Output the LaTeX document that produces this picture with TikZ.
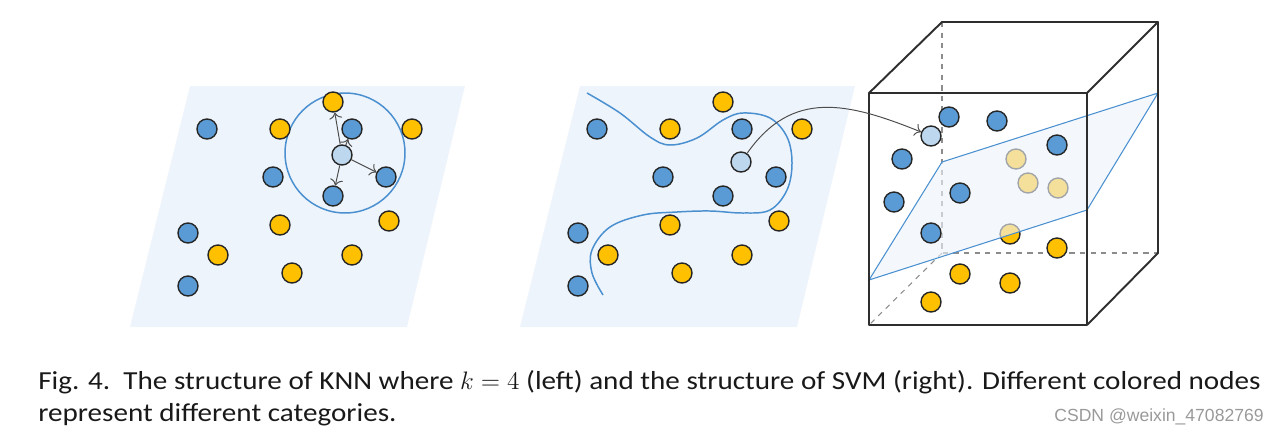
\documentclass[tikz,border=0pt]{standalone}
\usepackage{fontspec}
\usepackage{tikz}
\usetikzlibrary{arrows.meta}
\newfontfamily\capfont[FakeStretch=1.12]{Carlito}
\newfontfamily\markfont{Liberation Sans}
\definecolor{ptblue}{HTML}{5B9BD5}
\definecolor{ptyellow}{HTML}{FFC000}
\definecolor{ptquery}{HTML}{BDD7EE}
\definecolor{planefill}{HTML}{EEF4FB}
\definecolor{curveblue}{HTML}{4A90D0}

\begin{document}
\begin{tikzpicture}[
  x=0.02cm, y=-0.02cm,
  pt/.style={circle, draw=black!85, line width=0.8pt, minimum size=0.4cm, inner sep=0pt},
  bluept/.style={pt, fill=ptblue},
  yellowpt/.style={pt, fill=ptyellow},
  querypt/.style={pt, fill=ptquery},
  boundary/.style={draw=curveblue, line width=0.85pt},
  link/.style={-{To[length=3.5pt]}, draw=black!70, line width=0.55pt},
  cubeedge/.style={draw=black!82, line width=1.1pt, line join=round},
  hidden/.style={draw=black!45, dashed, line width=0.6pt},
  caption/.style={anchor=base west, inner sep=0pt, text=black!90, font=\capfont\fontsize{14.8}{17}\selectfont},
]
  \useasboundingbox (0,0) rectangle (1280,440);

  % KNN panel
  \fill[planefill] (190,86) -- (465,86) -- (407,327) -- (130,327) -- cycle;
  \node[circle, boundary, minimum size=2.4cm] (ring) at (345,153) {};
  \foreach \n/\x/\y in {1/207/129, 2/352/129, 3/273/177, 4/386/177, 5/333/196, 6/188/233, 7/188/286}
    \node[bluept] (kb\n) at (\x,\y) {};
  \foreach \n/\x/\y in {1/280/129, 2/333/102, 3/412/129, 4/280/225, 5/389/221, 6/218/255, 7/352/255, 8/292/273}
    \node[yellowpt] (ky\n) at (\x,\y) {};
  \node[querypt] (kq) at (342,155) {};
  \draw[link] (kq) -- (ky2);
  \draw[link] (kq) -- (kb2);
  \draw[link] (kq) -- (kb4);
  \draw[link] (kq) -- (kb5);

  % SVM panel, flat view
  \fill[planefill] (580,86) -- (855,86) -- (797,327) -- (520,327) -- cycle;
  \draw[boundary] plot[smooth, tension=0.6] coordinates {(587,93) (620,113) (650,137) (670,145) (697,138)
    (723,120) (743,113) (770,118) (787,137) (792,163) (787,190) (770,210) (743,213) (710,211)
    (677,212) (643,215) (610,227) (592,250) (592,273) (603,295)};
  \foreach \n/\x/\y in {1/207/129, 2/352/129, 3/273/177, 4/386/177, 5/333/196, 6/188/233, 7/188/286}
    \node[bluept] (sb\n) at ({\x+390},\y) {};
  \foreach \n/\x/\y in {1/280/129, 2/333/102, 3/412/129, 4/280/225, 5/389/221, 6/218/255, 7/352/255, 8/292/273}
    \node[yellowpt] (sy\n) at ({\x+390},\y) {};
  \node[querypt] (sq) at (741,162) {};

  % SVM panel, lifted into the cube
  \coordinate (f1) at (869,93);  \coordinate (f2) at (1087,93);
  \coordinate (f3) at (1087,325); \coordinate (f4) at (869,325);
  \coordinate (b1) at (942,22);  \coordinate (b2) at (1158,22);
  \coordinate (b3) at (1158,253); \coordinate (b4) at (942,253);
  \draw[hidden] (b1) -- (b4) -- (b3);
  \draw[hidden] (b4) -- (f4);
  \foreach \n/\x/\y in {1/1016/159, 2/1028/183, 3/1058/188, 4/1010/234, 5/1057/248, 6/960/274, 7/1010/283, 8/931/302}
    \node[yellowpt] (cy\n) at (\x,\y) {};
  \filldraw[fill=planefill, fill opacity=0.62, draw=curveblue, line width=0.6pt]
    (869,280) -- (942,162) -- (1158,93) -- (1087,210) -- cycle;
  \foreach \n/\x/\y in {1/949/117, 2/997/121, 3/902/159, 4/1057/145, 5/960/193, 6/894/202, 7/931/233}
    \node[bluept] (cb\n) at (\x,\y) {};
  \node[querypt] (cq) at (931,136) {};
  \draw[cubeedge] (f1) -- (f2) -- (f3) -- (f4) -- cycle;
  \draw[cubeedge] (f1) -- (b1) -- (b2) -- (f2);
  \draw[cubeedge] (b2) -- (b3) -- (f3);
  \draw[link] (sq) to[out=55, in=158, looseness=1.15] (cq);

  % caption
  \node[caption] (cap1) at (38,389)
    {Fig. 4.\ \ The structure of KNN where $k = 4$ (left) and the structure of SVM (right). Different colored nodes};
  \node[caption] (cap2) at (38,421) {represent different categories.};
  \node[anchor=base east, inner sep=0pt, text=black!40, font=\markfont\fontsize{10}{12}\selectfont] (mark) at (1264,421)
    {CSDN @weixin\_47082769};
\end{tikzpicture}
\end{document}
